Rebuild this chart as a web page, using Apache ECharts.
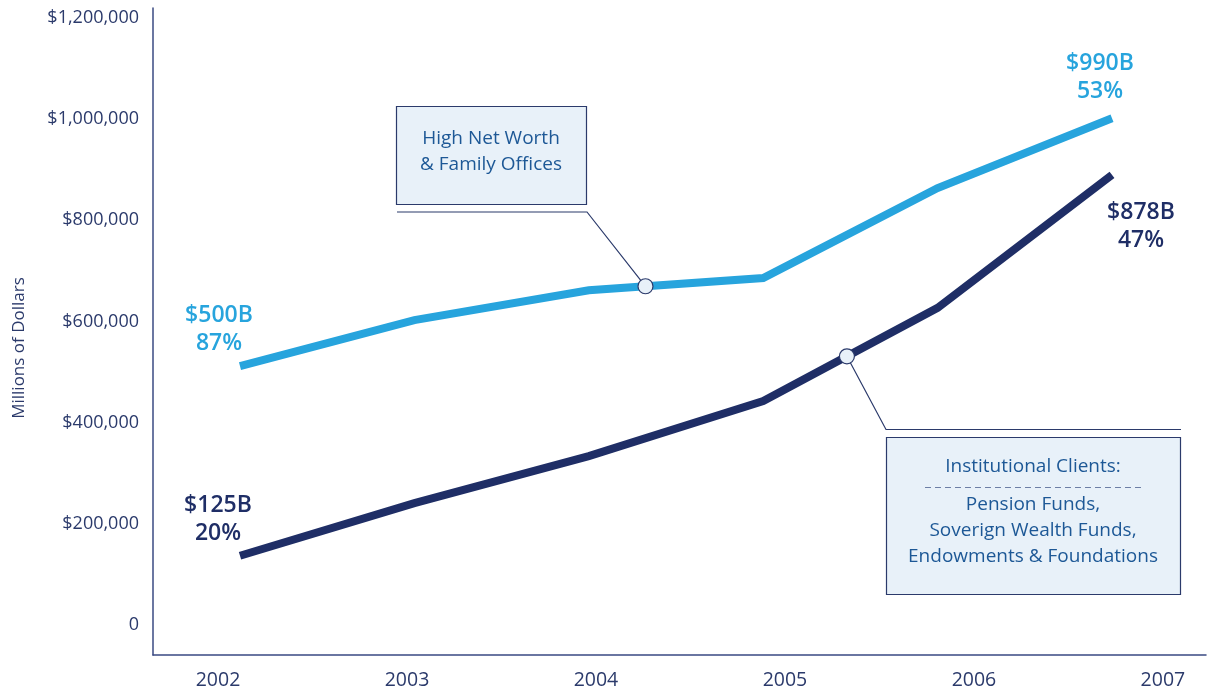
<!DOCTYPE html>
<html>
<head>
<meta charset="utf-8">
<script src="https://cdn.jsdelivr.net/npm/echarts@6/dist/echarts.min.js"></script>
<style>
  html, body { margin: 0; padding: 0; background: #ffffff; }
  #chart { width: 1213px; height: 692px; }
</style>
</head>
<body>
<div id="chart"></div>
<script>
// Assets under management by client type, millions of dollars
const years = ['2002', '2003', '2004', '2005', '2006', '2007'];
const highNetWorth = [500000, 591000, 650000, 674000, 852000, 990000];
const institutional = [125000, 229000, 322000, 431000, 615000, 878000];
// Share of total (%) shown at the first and last year
const highNetWorthShare = [87, null, null, null, null, 53];
const institutionalShare = [20, null, null, null, null, 47];
const yTicks = [0, 200000, 400000, 600000, 800000, 1000000, 1200000];
const yearTicks = [2002, 2003, 2004, 2005, 2006, 2007];

const LIGHT = '#27a4dd';
const DARK = '#1f2e66';
const AXIS = '#3a4a82';
const TEXT = '#2b3a6b';
const BOX_TEXT = '#1d5896';
const BOX_FILL = '#e8f1f9';
const FONT = '"Open Sans", "Noto Sans", sans-serif';

const Y_MIN = -71200, Y_MAX = 1207900;

function fmtMoney(v) {
  const s = v === 0 ? '0' : '$' + v.toLocaleString('en-US');
  return '{v|' + s + '}';
}

function endLabels(values, shares, offsets, color) {
  return values.map(function (v, i) {
    const item = { value: v };
    if (shares[i] != null) {
      item.label = {
        show: true,
        position: 'inside',
        offset: offsets[i],
        align: 'center',
        verticalAlign: 'middle',
        color: color,
        fontFamily: FONT,
        fontWeight: 600,
        fontSize: 23,
        lineHeight: 28,
        formatter: '$' + (v / 1000) + 'B\n' + shares[i] + '%'
      };
    }
    return item;
  });
}

const chart = echarts.init(document.getElementById('chart'), null, { renderer: 'canvas' });

chart.setOption({
  animation: false,
  backgroundColor: '#ffffff',
  grid: [
    { left: 153, right: 7, top: 8, bottom: 37 },
    { left: 240, right: 101, top: 8, bottom: 37 }
  ],
  xAxis: [
    {
      type: 'value', gridIndex: 0,
      min: 2001.656, max: 2007.228,
      axisLine: { show: true, onZero: false, lineStyle: { color: AXIS, width: 1.5 } },
      axisTick: { show: false },
      splitLine: { show: false },
      axisLabel: {
        customValues: yearTicks,
        formatter: function (v) { return String(v); },
        color: TEXT, fontFamily: FONT, fontSize: 19.5, margin: 15
      }
    },
    {
      type: 'category', gridIndex: 1, data: years,
      boundaryGap: false, show: false
    }
  ],
  yAxis: [
    {
      type: 'value', gridIndex: 0,
      min: Y_MIN, max: Y_MAX,
      axisLine: { show: true, onZero: false, lineStyle: { color: AXIS, width: 1.5 } },
      axisTick: { show: false },
      splitLine: { show: false },
      axisLabel: {
        customValues: yTicks,
        formatter: fmtMoney,
        margin: 14,
        rich: {
          v: { color: TEXT, fontFamily: FONT, fontSize: 18, padding: [12, 0, 0, 0] }
        }
      }
    },
    {
      type: 'value', gridIndex: 1,
      min: Y_MIN, max: Y_MAX, show: false
    }
  ],
  series: [
    {
      name: 'High Net Worth & Family Offices',
      type: 'line', xAxisIndex: 1, yAxisIndex: 1,
      data: endLabels(highNetWorth, highNetWorthShare,
        [[-21, -37], null, null, null, null, [-12, -41]], LIGHT),
      symbol: 'circle', symbolSize: 0.1, showSymbol: true,
      itemStyle: { color: LIGHT },
      lineStyle: { color: LIGHT, width: 8, cap: 'butt', join: 'miter' },
      z: 3
    },
    {
      name: 'Institutional Clients',
      type: 'line', xAxisIndex: 1, yAxisIndex: 1,
      data: endLabels(institutional, institutionalShare,
        [[-22, -36], null, null, null, null, [29, 52]], DARK),
      symbol: 'circle', symbolSize: 0.1, showSymbol: true,
      itemStyle: { color: DARK },
      lineStyle: { color: DARK, width: 8, cap: 'butt', join: 'miter' },
      z: 3
    }
  ]
});

// Point along a series segment (between index i and i+1, fraction t)
function along(values, i, t) {
  const a = chart.convertToPixel({ xAxisIndex: 1, yAxisIndex: 1 }, [i, values[i]]);
  const b = chart.convertToPixel({ xAxisIndex: 1, yAxisIndex: 1 }, [i + 1, values[i + 1]]);
  return [a[0] + (b[0] - a[0]) * t, a[1] + (b[1] - a[1]) * t];
}

const c1 = along(highNetWorth, 2, 0.325);
const c2 = along(institutional, 3, 0.48);

const leader = { stroke: '#2b3a6b', lineWidth: 1.2 };
const boxText = { fill: BOX_TEXT, fontFamily: FONT, fontSize: 19, align: 'center', verticalAlign: 'middle' };

chart.setOption({
  graphic: [
    // axis title
    {
      type: 'text', x: 19, y: 348, rotation: Math.PI / 2,
      style: { text: 'Millions of Dollars', fill: TEXT, fontFamily: FONT, fontSize: 17, align: 'center', verticalAlign: 'middle' }
    },
    // High net worth callout
    {
      type: 'rect', shape: { x: 396.5, y: 106.5, width: 190, height: 98 },
      style: { fill: BOX_FILL, stroke: '#2b3a6b', lineWidth: 1.2 }, z: 10
    },
    {
      type: 'text', x: 491, y: 139, z: 11,
      style: Object.assign({ text: 'High Net Worth' }, boxText)
    },
    {
      type: 'text', x: 491, y: 165, z: 11,
      style: Object.assign({ text: '& Family Offices' }, boxText)
    },
    {
      type: 'polyline', z: 10,
      shape: { points: [[397, 212], [587, 212], c1] },
      style: Object.assign({ fill: null }, leader)
    },
    {
      type: 'circle', z: 12, shape: { cx: c1[0], cy: c1[1], r: 7.5 },
      style: { fill: BOX_FILL, stroke: '#2b3a6b', lineWidth: 1.2 }
    },
    // Institutional callout
    {
      type: 'rect', shape: { x: 886.5, y: 437.5, width: 294, height: 157 },
      style: { fill: BOX_FILL, stroke: '#2b3a6b', lineWidth: 1.2 }, z: 10
    },
    {
      type: 'polyline', z: 10,
      shape: { points: [c2, [886, 429.5], [1181, 429.5]] },
      style: Object.assign({ fill: null }, leader)
    },
    {
      type: 'circle', z: 12, shape: { cx: c2[0], cy: c2[1], r: 7.5 },
      style: { fill: BOX_FILL, stroke: '#2b3a6b', lineWidth: 1.2 }
    },
    {
      type: 'text', x: 1033, y: 467, z: 11,
      style: Object.assign({ text: 'Institutional Clients:' }, boxText)
    },
    {
      type: 'line', z: 11, shape: { x1: 925, y1: 487.5, x2: 1142, y2: 487.5 },
      style: { stroke: '#6d7fa6', lineWidth: 1, lineDash: [6, 4] }
    },
    {
      type: 'text', x: 1033, y: 505, z: 11,
      style: Object.assign({ text: 'Pension Funds,' }, boxText)
    },
    {
      type: 'text', x: 1033, y: 531, z: 11,
      style: Object.assign({ text: 'Soverign Wealth Funds,' }, boxText)
    },
    {
      type: 'text', x: 1033, y: 557, z: 11,
      style: Object.assign({ text: 'Endowments & Foundations' }, boxText)
    }
  ]
});
</script>
</body>
</html>
